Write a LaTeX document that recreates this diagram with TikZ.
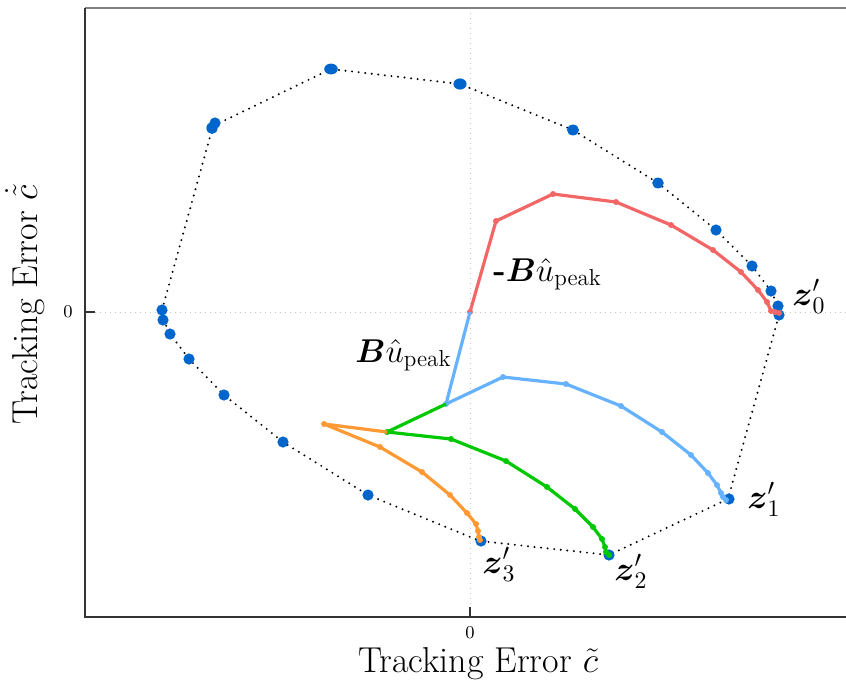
\RequirePackage{fix-cm}
\documentclass[tikz,border=0pt]{standalone}
\usepackage{amsmath}
\definecolor{dotblue}{RGB}{0,102,204}
\definecolor{redc}{RGB}{243,102,102}
\definecolor{lblue}{RGB}{102,178,255}
\definecolor{greenc}{RGB}{0,200,0}
\definecolor{orangec}{RGB}{255,153,51}
\begin{document}
\begin{tikzpicture}[x=0.5pt,y=-0.5pt,
  frameline/.style={line width=1pt, draw=black!80},
  topline/.style={line width=1pt, draw=black!50},
  gridline/.style={draw=black!22, line width=0.5pt, dash pattern=on 0.5pt off 2pt},
  hull/.style={draw=black, line width=1.1pt, line cap=round, dash pattern=on 0pt off 3.3pt},
  traj/.style={line width=1.6pt, line join=round},
  lbl/.style={inner sep=0pt, anchor=base west, font=\fontsize{17}{20}\selectfont},
  blbl/.style={inner sep=0pt, anchor=base west, font=\fontsize{16.5}{19}\selectfont},
  axlbl/.style={inner sep=0pt, font=\fontsize{18}{21}\selectfont},
  ticklbl/.style={inner sep=0pt, font=\fontsize{9}{11}\selectfont}
]
\useasboundingbox (0,0) rectangle (846,682);
% grid
\draw[gridline] (85,312) -- (846,312);
\draw[gridline] (470,8) -- (470,617);
% frame
\draw[topline] (85,8) -- (846,8);
\draw[frameline] (85,8) -- (85,617) -- (846,617);
\draw[frameline] (85,312) -- (95,312);
\draw[frameline] (470,617) -- (470,607);
\node[ticklbl] (ty0) at (68,312) {0};
\node[ticklbl] (tx0) at (470,633) {0};
\node[axlbl, anchor=base] (xl) at (478,672) {Tracking Error $\tilde{c}$};
\node[axlbl, anchor=base, rotate=90] (yl) at (37,305) {Tracking Error $\dot{\tilde{c}}$};
% hull
\draw[hull] (162,310) -- (213,126) -- (331,69) -- (460,84) -- (573,130) -- (658,183) -- (716,230) -- (752,266) -- (771,291) -- (778,306) -- (779,315) -- (728,499) -- (609,555) -- (480,541) -- (368,495) -- (283,442) -- (224,395) -- (189,359) -- (170,334) -- (163,319) -- cycle;
% blue dots
\fill[dotblue] (212,128) ellipse [x radius=2.8pt, y radius=3pt];
\fill[dotblue] (215,123) ellipse [x radius=2.8pt, y radius=2.8pt];
\fill[dotblue] (331,69) ellipse [x radius=3.4pt, y radius=2.7pt];
\fill[dotblue] (460,84) ellipse [x radius=3.3pt, y radius=2.8pt];
\fill[dotblue] (573,130) ellipse [x radius=3pt, y radius=2.7pt];
\fill[dotblue] (658,183) ellipse [x radius=2.9pt, y radius=2.7pt];
\foreach \x/\y in {716/230, 752/266, 771/291, 778/306, 779/315, 729/499, 609/555, 481/541, 368/495, 283/442, 224/395, 189/359, 170/334, 163/320, 162/310}
  \fill[dotblue] (\x,\y) circle (2.8pt);
% red trajectory
\draw[traj, redc] (470,312) -- (496,221) -- (553,194) -- (616,202) -- (671,225) -- (713,250) -- (741,272) -- (758,290) -- (767,302) -- (771,311) -- (775,312) -- (779,313);
\foreach \x/\y in {470/312, 496/221, 553/194, 616/202, 671/225, 713/250, 741/272, 758/290, 767/302, 771/311, 775/312, 779/313}
  \fill[redc] (\x,\y) circle (1.5pt);
% light blue trajectory
\draw[traj, lblue] (470,312) -- (446,404) -- (503,377) -- (566,384) -- (621,406) -- (662,432) -- (691,455) -- (708,473) -- (717,485) -- (721,493) -- (723,497) -- (726,500);
\foreach \x/\y in {446/404, 503/377, 566/384, 621/406, 662/432, 691/455, 708/473, 717/485, 721/493, 723/497, 726/500}
  \fill[lblue] (\x,\y) circle (1.5pt);
% green trajectory
\draw[traj, greenc] (446,404) -- (387,432) -- (451,439) -- (506,461) -- (547,487) -- (575,509) -- (593,527) -- (602,539) -- (605,547) -- (606,552) -- (609,555);
\foreach \x/\y in {387/432, 451/439, 506/461, 547/487, 575/509, 593/527, 602/539, 605/547, 606/552, 609/555}
  \fill[greenc] (\x,\y) circle (1.5pt);
% orange trajectory
\draw[traj, orangec] (387,432) -- (324,424) -- (380,447) -- (422,472) -- (450,495) -- (467,513) -- (476,524) -- (478,531) -- (479,537) -- (480,540);
\foreach \x/\y in {324/424, 380/447, 422/472, 450/495, 467/513, 476/524, 478/531, 479/537, 480/540}
  \fill[orangec] (\x,\y) circle (1.5pt);
% labels
\node[blbl] (mbu) at (493,281) {\textbf{-}$\boldsymbol{B}\hat{u}_{\text{peak}}$};
\node[blbl] (bu) at (355,362) {$\boldsymbol{B}\hat{u}_{\text{peak}}$};
\node[lbl] (z0) at (792,305) {$\boldsymbol{z}'_0$};
\node[lbl] (z1) at (747,508) {$\boldsymbol{z}'_1$};
\node[lbl] (z2) at (614,580) {$\boldsymbol{z}'_2$};
\node[lbl] (z3) at (482,573) {$\boldsymbol{z}'_3$};
\end{tikzpicture}
\end{document}
